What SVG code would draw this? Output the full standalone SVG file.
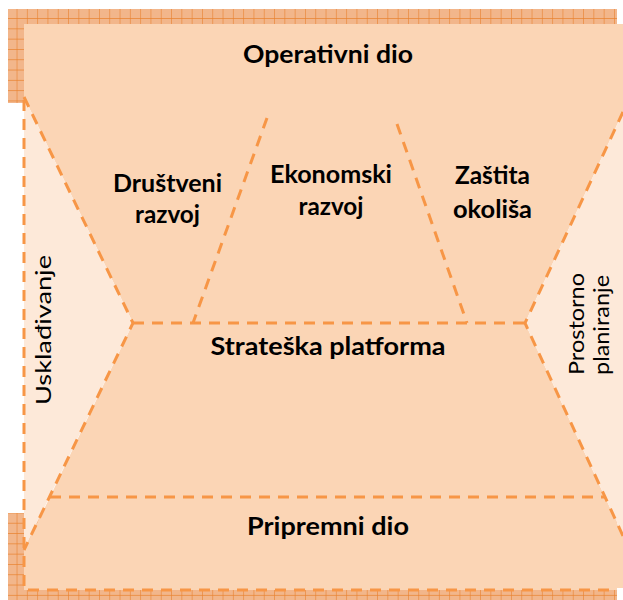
<svg xmlns="http://www.w3.org/2000/svg" width="623" height="600" viewBox="0 0 623 600">
<defs>
<pattern id="hatch" patternUnits="userSpaceOnUse" x="7.2" y="8.7" width="10.3" height="10.3">
<rect width="10.3" height="10.3" fill="#F2B68B"/>
<path d="M10.3 0V10.3M0 10.3H10.3" stroke="#E9822F" stroke-width="1.2"/>
</pattern>
<style>
.dash{fill:none;stroke:#F79646;stroke-width:3;stroke-dasharray:11 8}
.peach{fill:#FBD5B5}
.light{fill:#FDE9D9}
.b{font-family:Lato,"Liberation Sans",sans-serif;font-weight:bold;font-size:25.5px;fill:#000;text-anchor:middle}
.r{font-family:Lato,"Liberation Sans",sans-serif;font-size:22px;fill:#000;text-anchor:middle}
</style>
</defs>
<rect width="623" height="600" fill="#fff"/>
<g id="shadows">
<rect x="8" y="9" width="609" height="94" fill="url(#hatch)"/>
<rect x="8" y="513" width="609" height="87" fill="url(#hatch)"/>
</g>
<g id="operativni">
<polygon class="peach" points="24,24 623,24 623,112 525,323 133,323 24,97"/>
<text class="b" x="328" y="63" textLength="170" lengthAdjust="spacingAndGlyphs">Operativni dio</text>
</g>
<g id="strateska">
<polygon class="peach" points="133,323 525,323 605,497 50,497"/>
<text class="b" x="328" y="355" textLength="235" lengthAdjust="spacingAndGlyphs">Strateška platforma</text>
</g>
<g id="pripremni">
<polygon class="peach" points="24,550 50,497 605,497 623,536 623,588 617,588 617,590 24,590"/>
<text class="b" x="328" y="535" textLength="162" lengthAdjust="spacingAndGlyphs">Pripremni dio</text>
</g>
<g id="uskladivanje">
<polygon class="light" points="24,97 133,323 24,550"/>
<text class="r" transform="translate(51,330) rotate(-90)" textLength="150" lengthAdjust="spacingAndGlyphs">Usklađivanje</text>
</g>
<g id="prostorno">
<polygon class="light" points="623,112 525,323 623,536"/>
<text class="r" transform="translate(584,324) rotate(-90)" textLength="102" lengthAdjust="spacingAndGlyphs">Prostorno</text>
<text class="r" transform="translate(609,325) rotate(-90)" textLength="100" lengthAdjust="spacingAndGlyphs">planiranje</text>
</g>
<g id="drustveni">
<text class="b" x="167.5" y="192" textLength="109" lengthAdjust="spacingAndGlyphs">Društveni</text>
<text class="b" x="167.5" y="223" textLength="65" lengthAdjust="spacingAndGlyphs">razvoj</text>
</g>
<g id="ekonomski">
<text class="b" x="331" y="183" textLength="122" lengthAdjust="spacingAndGlyphs">Ekonomski</text>
<text class="b" x="331" y="215" textLength="65" lengthAdjust="spacingAndGlyphs">razvoj</text>
</g>
<g id="zastita">
<text class="b" x="492.5" y="184" textLength="75" lengthAdjust="spacingAndGlyphs">Zaštita</text>
<text class="b" x="492.5" y="218" textLength="79" lengthAdjust="spacingAndGlyphs">okoliša</text>
</g>
<g id="connectors">
<path class="dash" d="M24,97 L133,323 L24,550"/>
<path class="dash" d="M623,112 L525,323 L623,536"/>
<path class="dash" d="M133,323 H525"/>
<path class="dash" d="M50,497 H605"/>
<path class="dash" d="M24,100 V590 H617"/>
<path class="dash" d="M267,118 L193,323"/>
<path class="dash" d="M397,124 L467,323"/>
</g>
</svg>
